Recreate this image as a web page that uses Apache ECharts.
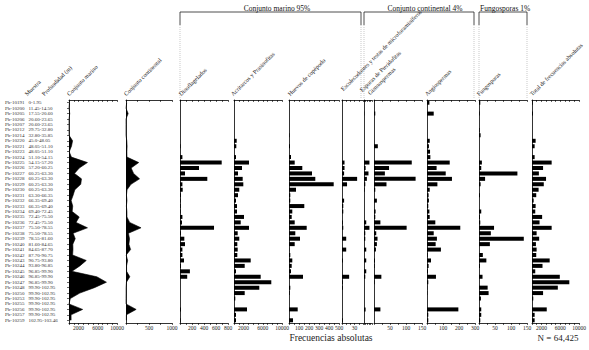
<!DOCTYPE html>
<html>
<head>
<meta charset="utf-8">
<script src="https://cdn.jsdelivr.net/npm/echarts@6/dist/echarts.min.js"></script>
<style>
  html, body { margin: 0; padding: 0; background: #fff; }
  #chart { width: 589px; height: 350px; }
</style>
</head>
<body>
<div id="chart"></div>
<script>
// rows, top to bottom
const samples = [
  "Pb-10191", "Pb-10200", "Pb-10205", "Pb-10206", "Pb-10207", "Pb-10212", "Pb-10214", "Pb-10220",
  "Pb-10221", "Pb-10223", "Pb-10224", "Pb-10225", "Pb-10226", "Pb-10227", "Pb-10228", "Pb-10229",
  "Pb-10230", "Pb-10231", "Pb-10232", "Pb-10233", "Pb-10234", "Pb-10235", "Pb-10236", "Pb-10237",
  "Pb-10238", "Pb-10239", "Pb-10240", "Pb-10241", "Pb-10242", "Pb-10243", "Pb-10244", "Pb-10245",
  "Pb-10246", "Pb-10247", "Pb-10248", "Pb-10250", "Pb-10253", "Pb-10255", "Pb-10256", "Pb-10257",
  "Pb-10259",
];
const depths = [
  "0-1.95", "11.45-14.50", "17.55-20.60", "20.60-23.65", "20.60-23.65", "29.75-32.80", "32.80-35.85", "45.0-48.05",
  "48.05-51.10", "48.05-51.10", "51.10-54.15", "54.15-57.20", "57.20-60.25", "60.25-63.30", "60.25-63.30", "60.25-63.30",
  "60.25-63.30", "63.30-66.35", "66.35-69.40", "66.35-69.40", "69.40-72.45", "72.45-75.50", "72.45-75.50", "75.50-78.55",
  "75.50-78.55", "78.55-81.60", "81.60-84.65", "84.65-87.70", "87.70-90.75", "90.75-93.80", "93.80-96.85", "96.85-99.90",
  "96.85-99.90", "96.85-99.90", "99.90-102.95", "99.90-102.95", "99.90-102.95", "99.90-102.95", "99.90-102.95", "99.90-102.95",
  "102.95-103.46",
];

// values per row
const marine = [100, 0, 150, 0, 0, 0, 20, 750, 520, 50, 500, 3850, 2150, 1150, 2600, 2450, 1220, 860, 450, 780, 660,
  2130, 1470, 3850, 860, 1300, 800, 830, 750, 3600, 2260, 620, 5800, 7800, 5300, 2250, 280, 0, 2850, 430, 440];
const continental = [15, 0, 47, 0, 0, 0, 0, 17, 24, 19, 21, 277, 112, 165, 295, 108, 23, 10, 21, 8, 20,
  21, 79, 327, 53, 77, 63, 100, 4, 35, 12, 13, 83, 10, 2, 2, 0, 0, 221, 8, 8];
const dinoflagelados = [0, 0, 0, 0, 0, 0, 0, 0, 10, 0, 40, 695, 317, 83, 455, 40, 45, 15, 10, 12, 10,
  40, 33, 567, 15, 72, 83, 40, 40, 67, 15, 165, 120, 0, 0, 0, 0, 0, 15, 0, 10];
const acritarcos = [0, 0, 0, 0, 0, 0, 0, 560, 480, 0, 420, 3130, 1670, 830, 1810, 1940, 1100, 830, 420, 620, 620,
  2080, 1400, 3130, 770, 1100, 690, 770, 690, 3480, 2230, 420, 5560, 7770, 5270, 2230, 270, 0, 2710, 420, 420];
const huevos = [0, 0, 0, 0, 0, 0, 5, 0, 10, 0, 20, 57, 133, 230, 263, 447, 70, 13, 13, 153, 33,
  27, 57, 177, 63, 110, 57, 3, 13, 33, 27, 20, 140, 0, 13, 7, 0, 0, 87, 0, 40];
const escolecodontes = [0, 0, 0, 0, 0, 0, 0, 0, 0, 0, 0, 6, 6, 5, 36, 12, 0, 0, 5, 3, 3,
  0, 2, 3, 0, 10, 0, 10, 0, 2, 0, 0, 17, 2, 2, 0, 0, 0, 0, 0, 2];
const esporas = [0, 0, 1, 0, 0, 0, 0, 0, 0, 0, 0, 17, 5, 14, 9, 4, 2, 0, 0, 0, 0,
  0, 7, 17, 4, 4, 0, 7, 0, 7, 0, 7, 4, 0, 0, 0, 0, 0, 5, 0, 0];
const gimnospermas = [0, 0, 4, 0, 0, 0, 0, 0, 12, 0, 0, 118, 47, 34, 130, 39, 4, 0, 9, 0, 5,
  4, 20, 102, 7, 11, 9, 6, 0, 3, 2, 0, 23, 2, 0, 0, 0, 0, 20, 0, 0];
const angiospermas = [15, 0, 42, 0, 0, 0, 0, 17, 12, 19, 21, 142, 60, 117, 156, 65, 17, 10, 12, 8, 15,
  17, 52, 208, 42, 62, 54, 87, 4, 25, 10, 6, 56, 8, 2, 2, 0, 0, 196, 8, 8];
const fungosporas = [4, 0, 2, 0, 0, 2, 5, 0, 0, 0, 0, 9, 7, 120, 19, 5, 0, 3, 0, 0, 7,
  3, 4, 47, 37, 140, 34, 0, 12, 23, 3, 0, 11, 0, 27, 30, 6, 0, 7, 7, 4];
const total = [150, 0, 200, 0, 0, 0, 0, 770, 560, 0, 560, 4170, 2350, 1460, 2980, 2500, 1400, 900, 350, 770, 690,
  2150, 1600, 4170, 980, 1520, 830, 980, 900, 3750, 2230, 690, 5900, 7920, 5480, 2350, 270, 0, 3130, 560, 560];

// labelled ticks of each bottom axis
const ticksMarine = [2000, 6000, 10000];
const ticksContinental = [500, 1000];
const ticksDino = [200, 400, 600, 800];
const ticksAcritarcos = [2000, 6000, 10000];
const ticksHuevos = [100, 200, 300, 400, 500];
const ticksEscol = [30];
const ticksEsporas = [];
const ticksGimno = [50, 100, 150];
const ticksAngio = [100, 200, 300];
const ticksFungo = [50, 100, 150];
const ticksTotal = [2000, 6000, 10000];

const headers = [
  "Muestra", "Profundidad (m)", "Conjunto marino", "Conjunto continental", "Dinoflagelados",
  "Acritarcos y Prasinofitas", "Huevos de copépodo", "Escolecodontes y testas de microforaminíferos",
  "Esporas de Pteridofitas", "Gimnospermas", "Angiospermas", "Fungosporas", "Total de frecuencias absolutas",
];
const headerPos = [
  [28, 97], [45, 97], [70, 97], [127, 97], [182, 97], [234, 97], [291, 97], [344, 92],
  [363, 93], [371, 96], [428, 97], [480, 97], [533, 97],
];

const FONT = "Liberation Serif";
const TOP = 100;
const HEIGHT = 223;

const panels = [
  { data: marine, area: true, left: 69, width: 48, max: 10000, step: 1000, labels: ticksMarine },
  { data: continental, area: true, left: 126, width: 46, max: 1000, step: 250, labels: ticksContinental },
  { data: dinoflagelados, left: 180, width: 48, max: 800, step: 100, labels: ticksDino },
  { data: acritarcos, left: 234, width: 48, max: 10000, step: 1000, labels: ticksAcritarcos },
  { data: huevos, left: 289, width: 50, max: 500, step: 50, labels: ticksHuevos },
  { data: escolecodontes, left: 342, width: 21, max: 50, step: 10, labels: ticksEscol },
  { data: esporas, left: 364, width: 8, max: 25, step: 5, labels: ticksEsporas },
  { data: gimnospermas, left: 374, width: 48, max: 150, step: 25, labels: ticksGimno },
  { data: angiospermas, left: 427, width: 48, max: 300, step: 50, labels: ticksAngio },
  { data: fungosporas, left: 479, width: 48, max: 150, step: 25, labels: ticksFungo },
  { data: total, left: 532, width: 48, max: 10000, step: 1000, labels: ticksTotal },
];

const grid = [];
const xAxis = [];
const yAxis = [];
const series = [];

panels.forEach((p, k) => {
  grid.push({ left: p.left, top: TOP, width: p.width, height: HEIGHT });

  xAxis.push({
    gridIndex: k,
    type: "value",
    position: "bottom",
    min: 0,
    max: p.max,
    interval: p.step,
    axisLine: { show: true, lineStyle: { color: "#000", width: 0.8 } },
    axisTick: { show: true, length: 2, lineStyle: { color: "#000", width: 0.6 } },
    axisLabel: {
      fontFamily: FONT,
      fontSize: 5.5,
      color: "#222",
      margin: 2,
      hideOverlap: false,
      showMinLabel: true,
      showMaxLabel: true,
      formatter: (v) => (p.labels.indexOf(v) >= 0 ? String(v) : ""),
    },
    splitLine: { show: false },
  });
  xAxis.push({
    gridIndex: k,
    type: "value",
    position: "top",
    min: 0,
    max: p.max,
    interval: p.step,
    axisLine: { show: true, lineStyle: { color: "#000", width: 0.8 } },
    axisTick: { show: true, inside: true, length: 2, lineStyle: { color: "#000", width: 0.6 } },
    axisLabel: { show: false },
    splitLine: { show: false },
  });

  const first = k === 0;
  yAxis.push({
    gridIndex: k,
    type: "category",
    inverse: true,
    data: samples,
    axisLine: { show: true, onZero: false, lineStyle: { color: "#000", width: 0.8 } },
    axisTick: first
      ? { show: true, alignWithLabel: true, length: 2, lineStyle: { color: "#000", width: 0.6 } }
      : { show: false },
    axisLabel: first
      ? {
          show: true,
          interval: 0,
          margin: 5,
          color: "#333",
          fontFamily: FONT,
          fontSize: 5,
          formatter: (v, i) => `{a|${v}}{b|${depths[i]}}`,
          rich: {
            a: { width: 23.5, align: "left", fontFamily: FONT, fontSize: 5, color: "#333" },
            b: { width: 35.5, align: "left", fontFamily: FONT, fontSize: 5, color: "#333" },
          },
        }
      : { show: false },
    splitLine: { show: false },
  });

  if (p.area) {
    series.push({
      type: "line",
      xAxisIndex: k * 2,
      yAxisIndex: k,
      data: p.data,
      symbol: "none",
      silent: true,
      lineStyle: { color: "#000", width: 0.6 },
      areaStyle: { color: "#000", opacity: 1 },
    });
  } else {
    series.push({
      type: "bar",
      xAxisIndex: k * 2,
      yAxisIndex: k,
      data: p.data,
      barWidth: 4,
      silent: true,
      itemStyle: { color: "#000" },
    });
  }
});

const graphic = [];

// group brackets
const brackets = [
  { x1: 180, x2: 361, title: "Conjunto marino 95%", tx: 277, align: "center" },
  { x1: 364, x2: 474, title: "Conjunto continental 4%", tx: 425, align: "center" },
  { x1: 479, x2: 527, title: "Fungosporas 1%", tx: 480, align: "left" },
];
brackets.forEach((b) => {
  graphic.push({
    type: "polyline",
    silent: true,
    shape: { points: [[b.x1, 25], [b.x1, 12], [b.x2, 12], [b.x2, 25]] },
    style: { stroke: "#222", lineWidth: 0.8, fill: null },
  });
  [b.x1, b.x2].forEach((x) => {
    graphic.push({
      type: "line",
      silent: true,
      shape: { x1: x, y1: 25, x2: x, y2: 98 },
      style: { stroke: "#bbb", lineWidth: 0.8, lineDash: [1, 1] },
    });
  });
  graphic.push({
    type: "text",
    silent: true,
    x: b.tx,
    y: 8,
    style: {
      text: b.title,
      font: `7.5px "${FONT}"`,
      fill: "#111",
      textAlign: b.align,
      textVerticalAlign: "middle",
      align: b.align,
      verticalAlign: "middle",
    },
  });
});

// rotated column headers, rising to the right
headers.forEach((h, i) => {
  graphic.push({
    type: "text",
    silent: true,
    x: headerPos[i][0],
    y: headerPos[i][1],
    rotation: Math.PI / 4,
    style: {
      text: h,
      font: `6px "${FONT}"`,
      fill: "#222",
      textAlign: "left",
      textVerticalAlign: "bottom",
      align: "left",
      verticalAlign: "bottom",
    },
  });
});

graphic.push({
  type: "text",
  silent: true,
  x: 331,
  y: 338,
  style: {
    text: "Frecuencias absolutas",
    font: `9.5px "${FONT}"`,
    fill: "#222",
    textAlign: "center",
    textVerticalAlign: "middle",
    align: "center",
    verticalAlign: "middle",
  },
});
graphic.push({
  type: "text",
  silent: true,
  x: 558,
  y: 338,
  style: {
    text: "N = 64,425",
    font: `9px "${FONT}"`,
    fill: "#222",
    textAlign: "center",
    textVerticalAlign: "middle",
    align: "center",
    verticalAlign: "middle",
  },
});

const chart = echarts.init(document.getElementById("chart"), null, { renderer: "svg" });
chart.setOption({
  animation: false,
  backgroundColor: "#fff",
  textStyle: { fontFamily: FONT },
  grid,
  xAxis,
  yAxis,
  series,
  graphic,
});
</script>
</body>
</html>
